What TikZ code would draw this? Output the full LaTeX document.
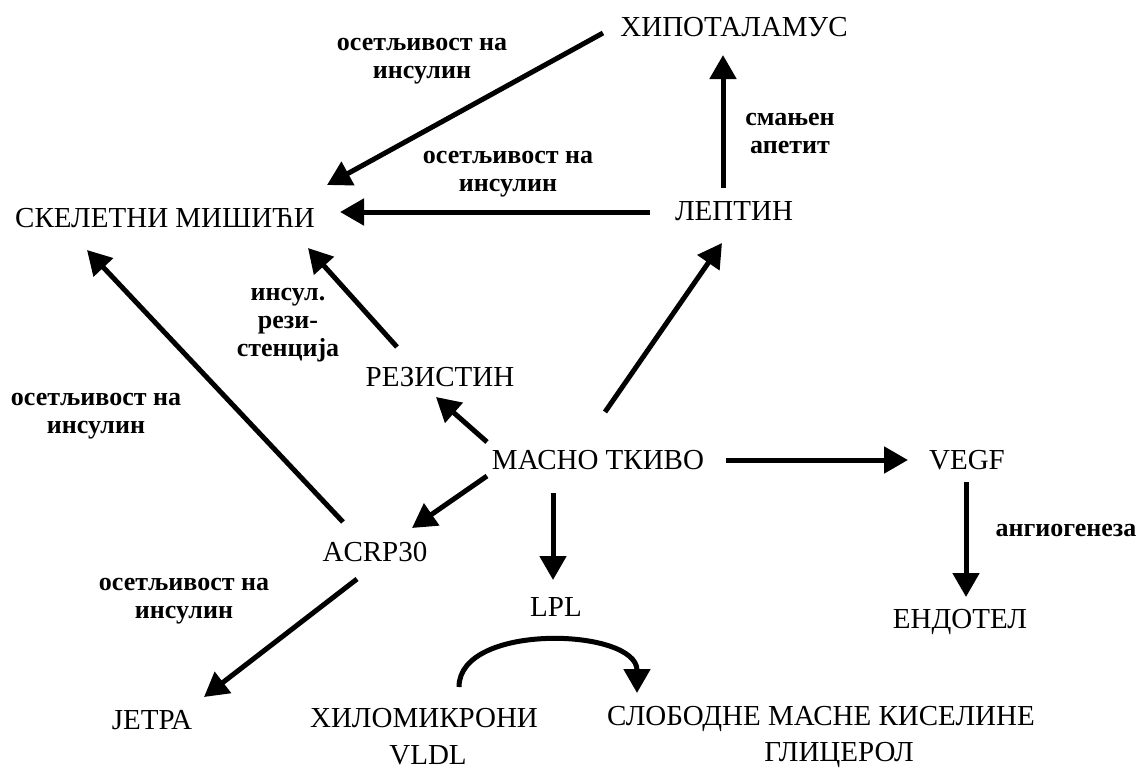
\documentclass[tikz,border=0pt]{standalone}
\usepackage{fontspec}
\setmainfont{Liberation Serif}
\usetikzlibrary{arrows.meta}

\tikzset{
  organ/.style={inner sep=0pt, font=\fontsize{29}{34}\selectfont},
  effect/.style={inner sep=0pt, align=center, font=\fontsize{26}{28}\selectfont\bfseries},
  arr/.style={-{Triangle[length=24pt,width=26pt]}, line width=5pt},
}

\begin{document}
\begin{tikzpicture}[x=1pt,y=-1pt]
		\useasboundingbox (0,0) rectangle (1140,769);
		\node[organ] (hipo) at (734,27) {ХИПОТАЛАМУС};
		\node[organ] (leptin) at (734,211) {ЛЕПТИН};
		\node[organ] (skel) at (165,218) {СКЕЛЕТНИ МИШИЋИ};
		\node[organ] (rezist) at (440,377) {РЕЗИСТИН};
		\node[organ] (masno) at (598,460) {МАСНО ТКИВО};
		\node[organ] (vegf) at (967,460) {VEGF};
		\node[organ] (endotel) at (960,622) {ЕНДОТЕЛ};
		\node[organ] (acrp) at (375,552) {ACRP30};
		\node[organ] (lpl) at (556,607) {LPL};
		\node[organ] (jetra) at (152,720) {ЈЕТРА};
		\node[organ] (hilo) at (424,718) {ХИЛОМИКРОНИ};
		\node[organ] (vldl) at (428,755) {VLDL};
		\node[organ] (slob) at (821,719) {СЛОБОДНЕ МАСНЕ КИСЕЛИНЕ};
		\node[organ] (glic) at (839,755) {ГЛИЦЕРОЛ};
		
		% effects
		\node[effect] (osetA) at (422,61) {осетљивост на\\инсулин};
		\node[effect] (osetB) at (508,174) {осетљивост на\\инсулин};
		\node[effect] (apetit) at (790,133) {смањен\\апетит};
		\node[effect] (rezistencija) at (288,325) {инсул.\\рези-\\стенција};
		\node[effect] (osetC) at (96,416) {осетљивост на\\инсулин};
		\node[effect] (osetD) at (184,601) {осетљивост на\\инсулин};
		\node[effect] (angio) at (1066,530) {ангиогенеза};
		
		\path[arr] ([shift={(-131,6)}]hipo.center) edge ([shift={(162,-33)}]skel.center);
		\path[arr] ([shift={(-84,1)}]leptin.center) edge ([shift={(175,-6)}]skel.center);
		\path[arr] ([shift={(-11,-23)}]leptin.center) edge ([shift={(-11,28)}]hipo.center);
		\path[arr] ([shift={(7,-48)}]masno.center) edge ([shift={(-12,32)}]leptin.center);
		\path[arr] ([shift={(-111,-18)}]masno.center) edge ([shift={(-4,20)}]rezist.center);
		\path[arr] ([shift={(-43,-30)}]rezist.center) edge ([shift={(143,30)}]skel.center);
		\path[arr] ([shift={(-111,16)}]masno.center) edge ([shift={(37,-24)}]acrp.center);
		\path[arr] ([shift={(-32,-30)}]acrp.center) edge ([shift={(-78,32)}]skel.center);
		\path[arr] ([shift={(-18,27)}]acrp.center) edge ([shift={(52,-23)}]jetra.center);
		\path[arr] ([shift={(-45,33)}]masno.center) edge ([shift={(-3,-27)}]lpl.center);
		\path[arr] ([shift={(128,0)}]masno.center) edge ([shift={(-59,0)}]vegf.center);
		\path[arr] ([shift={(-1,22)}]vegf.center) edge ([shift={(6,-25)}]endotel.center);
		\draw[arr] ([shift={(35,-31)}]hilo.center) .. controls +(0,-65) and +(0,-65) .. ([shift={(-184,-26)}]slob.center);
\end{tikzpicture}
\end{document}
